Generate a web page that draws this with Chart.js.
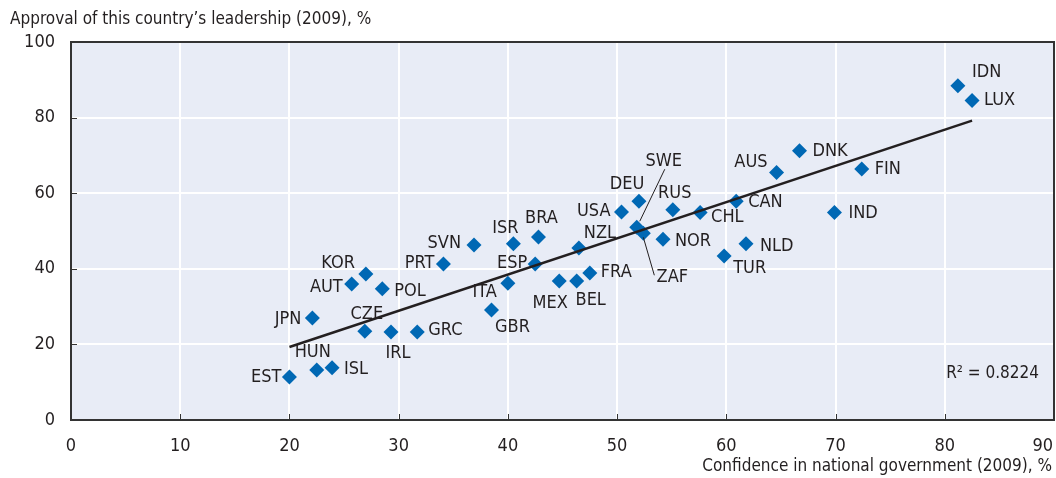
<!DOCTYPE html>
<html>
<head>
<meta charset="utf-8">
<script src="https://cdn.jsdelivr.net/npm/chart.js@4.4.0/dist/chart.umd.min.js"></script>
<style>
  html, body { margin: 0; padding: 0; background: #ffffff; }
  #wrap { width: 1056px; height: 478px; position: relative; }
</style>
</head>
<body>
<div id="wrap"><canvas id="chart"></canvas></div>
<script>
// Data
const countries = ['EST', 'HUN', 'ISL', 'JPN', 'CZE', 'IRL', 'GRC', 'AUT', 'KOR', 'POL',
  'PRT', 'SVN', 'ISR', 'BRA', 'ESP', 'ITA', 'GBR', 'MEX', 'BEL', 'FRA',
  'NZL', 'USA', 'DEU', 'SWE', 'ZAF', 'RUS', 'CHL', 'NOR', 'TUR', 'CAN',
  'NLD', 'AUS', 'DNK', 'IND', 'FIN', 'IDN', 'LUX'];
const confidence = [20.0, 22.5, 23.9, 22.1, 26.9, 29.3, 31.7, 25.7, 27.0, 28.5,
  34.1, 36.9, 40.5, 42.8, 42.5, 40.0, 38.5, 44.7, 46.3, 47.5,
  46.5, 50.4, 52.0, 51.8, 52.4, 55.1, 57.6, 54.2, 59.8, 60.9,
  61.8, 64.6, 66.7, 69.9, 72.4, 81.2, 82.5];
const approval = [11.4, 13.2, 13.8, 27.0, 23.5, 23.3, 23.3, 36.0, 38.6, 34.7,
  41.3, 46.3, 46.6, 48.4, 41.3, 36.2, 29.1, 36.8, 36.8, 38.9,
  45.5, 55.0, 57.9, 51.0, 49.4, 55.6, 54.9, 47.8, 43.4, 57.9,
  46.6, 65.5, 71.2, 54.9, 66.4, 88.4, 84.5];

// Trend line ends as drawn
const trendX = [20, 82.5];
const trendY = [19.3, 79.2];

const xTicks = [0, 10, 20, 30, 40, 50, 60, 70, 80, 90];
const yTicks = [0, 20, 40, 60, 80, 100];

const xTitle = 'Confidence in national government (2009), %';
const yTitle = 'Approval of this country\u2019s leadership (2009), %';
const rSquaredText = 'R\u00b2 = 0.8224';

// label placement relative to each marker: [dx, dy, align, leader]
const labelPos = {
  IDN: [14, -14, 'left'], LUX: [12, 0, 'left'], DNK: [13, 0, 'left'],
  AUS: [-9, -10, 'right'], FIN: [13, 0, 'left'], IND: [14, 1, 'left'],
  CAN: [12, 1, 'left'], CHL: [11, 5, 'left'], NLD: [14, 2, 'left'],
  TUR: [9, 12, 'left'], NOR: [12, 2, 'left'], RUS: [2, -17, 'center'],
  DEU: [-12, -17, 'center'], USA: [-11, -1, 'right'],
  SWE: [27, -66, 'center', [28, -58, 3, -6]],
  ZAF: [29, 44, 'center', [11, 42, 0, 4]],
  NZL: [21, -15, 'center'], BRA: [3, -19, 'center'], ISR: [-8, -16, 'center'],
  ESP: [-8, -1, 'right'], ITA: [-11, 9, 'right'], GBR: [21, 17, 'center'],
  MEX: [-9, 22, 'center'], BEL: [14, 19, 'center'], FRA: [11, -1, 'left'],
  SVN: [-13, -2, 'right'], PRT: [-9, -1, 'right'], KOR: [-11, -11, 'right'],
  AUT: [-9, 3, 'right'], POL: [12, 2, 'left'], JPN: [-11, 1, 'right'],
  CZE: [2, -17, 'center'], IRL: [7, 21, 'center'], GRC: [11, -2, 'left'],
  HUN: [-4, -18, 'center'], ISL: [12, 1, 'left'], EST: [-8, 0, 'right']
};

const FONT = "'Liberation Sans Narrow', 'Arial Narrow', 'DejaVu Sans Condensed', sans-serif";
const textColor = '#231f20';
const plotBg = '#e8ecf6';
const markerColor = '#0068b4';
const frameColor = '#333333';

const points = countries.map((c, i) => ({ x: confidence[i], y: approval[i] }));
const trend = trendX.map((x, i) => ({ x: x, y: trendY[i] }));

const framePlugin = {
  id: 'frame',
  beforeDraw(chart) {
    const a = chart.chartArea;
    const ctx = chart.ctx;
    ctx.save();
    ctx.fillStyle = plotBg;
    ctx.fillRect(a.left, a.top, a.right - a.left, a.bottom - a.top);
    ctx.restore();
  },
  afterDraw(chart) {
    const a = chart.chartArea;
    const ctx = chart.ctx;
    const xs = chart.scales.x, ys = chart.scales.y;
    ctx.save();
    // frame
    ctx.strokeStyle = frameColor;
    ctx.lineWidth = 2;
    ctx.strokeRect(a.left, a.top, a.right - a.left, a.bottom - a.top);
    // inner tick marks
    ctx.lineWidth = 1;
    xTicks.forEach(v => {
      const px = Math.round(xs.getPixelForValue(v)) + 0.5;
      ctx.beginPath(); ctx.moveTo(px, a.bottom); ctx.lineTo(px, a.bottom - 6); ctx.stroke();
    });
    yTicks.forEach(v => {
      const py = Math.round(ys.getPixelForValue(v)) + 0.5;
      ctx.beginPath(); ctx.moveTo(a.left, py); ctx.lineTo(a.left + 6, py); ctx.stroke();
    });
    // x tick labels (the last one is kept inside the canvas)
    ctx.fillStyle = textColor;
    ctx.font = '18px ' + FONT;
    ctx.textBaseline = 'middle';
    xTicks.forEach((v, i) => {
      const px = xs.getPixelForValue(v);
      if (i === xTicks.length - 1) {
        ctx.textAlign = 'right';
        ctx.fillText(String(v), Math.min(px + 9, chart.width - 3), a.bottom + 26);
      } else {
        ctx.textAlign = 'center';
        ctx.fillText(String(v), px, a.bottom + 26);
      }
    });
    // titles
    ctx.font = '17px ' + FONT;
    ctx.textAlign = 'left';
    ctx.fillText(yTitle, 10, 20);
    ctx.textAlign = 'right';
    ctx.fillText(xTitle, a.right - 2, 467);
    // R squared
    ctx.fillText(rSquaredText, a.right - 15, a.bottom - 46);
    ctx.restore();
  }
};

const labelPlugin = {
  id: 'pointLabels',
  afterDatasetsDraw(chart) {
    const ctx = chart.ctx;
    const meta = chart.getDatasetMeta(1);
    ctx.save();
    ctx.font = '18px ' + FONT;
    ctx.fillStyle = textColor;
    ctx.strokeStyle = textColor;
    ctx.lineWidth = 1;
    ctx.textBaseline = 'middle';
    meta.data.forEach((el, i) => {
      const pos = labelPos[countries[i]] || [10, 0, 'left'];
      if (pos[3]) {
        const l = pos[3];
        ctx.beginPath();
        ctx.moveTo(el.x + l[0], el.y + l[1]);
        ctx.lineTo(el.x + l[2], el.y + l[3]);
        ctx.stroke();
      }
      ctx.textAlign = pos[2];
      ctx.fillText(countries[i], el.x + pos[0], el.y + pos[1]);
    });
    ctx.restore();
  }
};

new Chart(document.getElementById('chart'), {
  type: 'scatter',
  data: {
    datasets: [
      {
        type: 'line',
        data: trend,
        borderColor: '#231f20',
        borderWidth: 2.5,
        pointRadius: 0,
        fill: false
      },
      {
        data: points,
        pointStyle: 'rectRot',
        pointRadius: 7.5,
        backgroundColor: markerColor,
        borderColor: markerColor,
        borderWidth: 0
      }
    ]
  },
  options: {
    responsive: true,
    maintainAspectRatio: false,
    animation: false,
    layout: { autoPadding: false, padding: { top: 42, right: 2, left: 0, bottom: 0 } },
    plugins: {
      legend: { display: false },
      tooltip: { enabled: false }
    },
    scales: {
      x: {
        type: 'linear',
        min: 0,
        max: 90,
        afterBuildTicks: scale => { scale.ticks = xTicks.map(v => ({ value: v })); },
        afterFit: scale => { scale.height = 58; scale.paddingLeft = 0; scale.paddingRight = 0; },
        grid: { color: '#ffffff', lineWidth: 2, drawTicks: false },
        border: { display: false },
        ticks: { display: false }
      },
      y: {
        type: 'linear',
        min: 0,
        max: 100,
        afterBuildTicks: scale => { scale.ticks = yTicks.map(v => ({ value: v })); },
        afterFit: scale => { scale.width = 71; scale.paddingTop = 0; scale.paddingBottom = 0; },
        grid: { color: '#ffffff', lineWidth: 2, drawTicks: false },
        border: { display: false },
        ticks: { color: textColor, padding: 16, font: { family: FONT, size: 18 } }
      }
    }
  },
  plugins: [framePlugin, labelPlugin]
});
</script>
</body>
</html>
